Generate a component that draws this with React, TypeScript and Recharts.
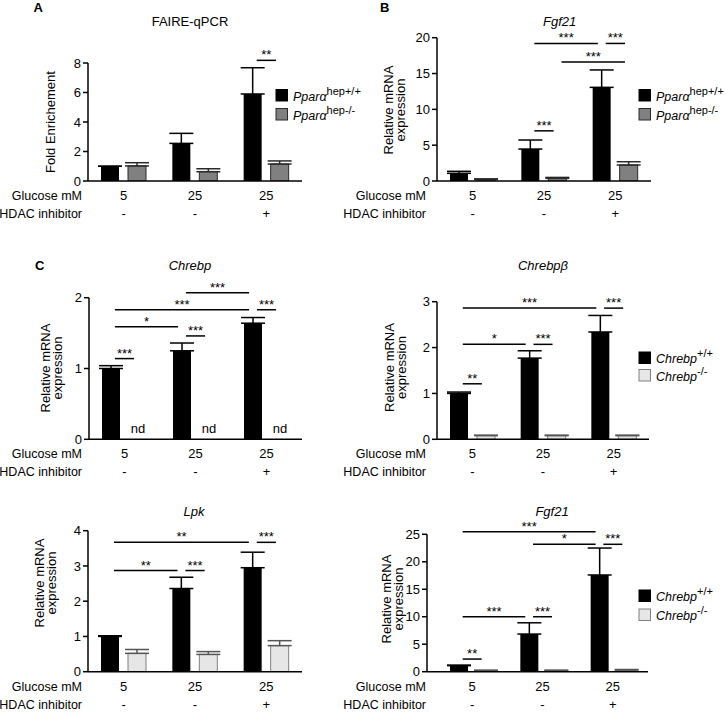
import React from 'react';
import { BarChart, Bar, XAxis, YAxis, ErrorBar, ReferenceLine, ReferenceDot } from 'recharts';

// ---------- shared categories ----------
const glucose = ['5', '25', '25'];
const hdac = ['-', '-', '+'];

// ---------- Panel A: FAIRE-qPCR ----------
const aWt = [1.0, 2.55, 5.9];
const aWtErr = [0, 0.68, 1.78];
const aKo = [1.02, 0.63, 1.15];
const aKoErr = [0.22, 0.2, 0.21];
const aTicks = [0, 2, 4, 6, 8];
const aSig = [{ a: [2, 0], b: [2, 1], y: 8.18, t: '**' }];

// ---------- Panel B: Fgf21 (Ppara) ----------
const bWt = [1.07, 4.46, 13.07];
const bWtErr = [0.28, 1.26, 2.43];
const bKo = [0.22, 0.37, 2.23];
const bKoErr = [0.08, 0.13, 0.46];
const bTicks = [0, 5, 10, 15, 20];
const bSig = [
  { a: [1, 0], b: [2, 0], y: 19.2, t: '***' },
  { a: [2, 0], b: [2, 1], y: 19.2, t: '***' },
  { a: [1, 1], b: [2, 1], y: 16.6, t: '***' },
  { a: [1, 0], b: [1, 1], y: 7.0, t: '***' },
];

// ---------- Panel C1: Chrebp ----------
const c1Wt = [1.0, 1.25, 1.64];
const c1WtErr = [0.04, 0.11, 0.08];
const c1Ko = [0, 0, 0];
const c1Nd = ['nd', 'nd', 'nd'];
const c1Ticks = [0, 1, 2];
const c1Sig = [
  { a: [0, 0], b: [0, 1], y: 1.14, t: '***' },
  { a: [0, 0], b: [1, 0], y: 1.59, t: '*' },
  { a: [1, 0], b: [1, 1], y: 1.46, t: '***' },
  { a: [0, 0], b: [2, 0], y: 1.83, t: '***' },
  { a: [1, 0], b: [2, 0], y: 2.07, t: '***' },
  { a: [2, 0], b: [2, 1], y: 1.83, t: '***' },
];

// ---------- Panel C2: Chrebpβ ----------
const c2Wt = [1.0, 1.77, 2.34];
const c2WtErr = [0.03, 0.16, 0.36];
const c2Ko = [0.08, 0.08, 0.08];
const c2KoErr = [0.01, 0.01, 0.01];
const c2Ticks = [0, 1, 2, 3];
const c2Sig = [
  { a: [0, 0], b: [0, 1], y: 1.21, t: '**' },
  { a: [0, 0], b: [1, 0], y: 2.07, t: '*' },
  { a: [1, 0], b: [1, 1], y: 2.07, t: '***' },
  { a: [0, 0], b: [2, 0], y: 2.86, t: '***' },
  { a: [2, 0], b: [2, 1], y: 2.86, t: '***' },
];

// ---------- Panel C3: Lpk ----------
const c3Wt = [1.0, 2.36, 2.95];
const c3WtErr = [0.02, 0.32, 0.44];
const c3Ko = [0.52, 0.49, 0.74];
const c3KoErr = [0.11, 0.08, 0.14];
const c3Ticks = [0, 1, 2, 3, 4];
const c3Sig = [
  { a: [0, 0], b: [1, 0], y: 2.87, t: '**' },
  { a: [1, 0], b: [1, 1], y: 2.87, t: '***' },
  { a: [0, 0], b: [2, 0], y: 3.67, t: '**' },
  { a: [2, 0], b: [2, 1], y: 3.67, t: '***' },
];

// ---------- Panel C4: Fgf21 (Chrebp) ----------
const c4Wt = [1.1, 6.85, 17.6];
const c4WtErr = [0.1, 2.05, 4.9];
const c4Ko = [0.2, 0.2, 0.3];
const c4KoErr = [0.08, 0.08, 0.1];
const c4Ticks = [0, 5, 10, 15, 20, 25];
const c4Sig = [
  { a: [0, 0], b: [0, 1], y: 2.3, t: '**' },
  { a: [0, 0], b: [1, 0], y: 10.0, t: '***' },
  { a: [1, 0], b: [1, 1], y: 10.0, t: '***' },
  { a: [0, 0], b: [2, 0], y: 25.47, t: '***' },
  { a: [1, 0], b: [2, 0], y: 23.18, t: '*' },
  { a: [2, 0], b: [2, 1], y: 23.18, t: '***' },
];

// ---------- legend names ----------
const pparaNames = [['Pparα', 'hep+/+'], ['Pparα', 'hep-/-']];
const chrebpNames = [['Chrebp', '+/+'], ['Chrebp', '-/-']];
const rowLabels = ['Glucose mM', 'HDAC inhibitor'];

// ---------- styles ----------
const FONT = '"Liberation Sans", Arial, Helvetica, sans-serif';
const BLACK = { fill: '#000000', stroke: 'none', err: '#000000' };
const GRAY = { fill: '#808080', stroke: '#2a2a2a', err: '#2a2a2a' };
const LIGHT = { fill: '#e6e6e6', stroke: '#808080', err: '#555555' };

const OFF = 0.19;
const INSET = 0.055;
const bp = (g: number, s: number) => g + 0.5 + (s === 0 ? -OFF : OFF);

const CatTick = (props: any) => {
  const { x, y, payload } = props;
  const [g, h] = String(payload.value).split('|');
  return (
    <g>
      <text x={x} y={y + 19} textAnchor="middle" fontSize={13} fill="#000">{g}</text>
      <text x={x} y={y + 37} textAnchor="middle" fontSize={13} fill="#000">{h}</text>
    </g>
  );
};

type Cfg = {
  left: number; top: number; w: number; h: number;
  pl: number; pr: number; pt: number; pb: number; pad?: number;
};

const YW = 40;
const XH = 30;

function Panel(p: {
  cfg: Cfg; wt: number[]; wtErr: number[]; ko: number[]; koErr?: number[];
  nd?: string[]; sig: any[]; ticks: number[]; koStyle: any;
}) {
  const { cfg, wt, wtErr, ko, koErr, nd, sig, ticks, koStyle } = p;
  const data = glucose.map((g, i) => ({
    label: `${g}|${hdac[i]}`,
    pos: i + 0.5,
    wt: wt[i],
    wtErr: [0, wtErr[i]],
    ko: ko[i],
    koErr: koErr ? [0, koErr[i]] : [0, 0],
  }));
  const max = ticks[ticks.length - 1];
  const margin = {
    top: cfg.pt - cfg.top,
    left: cfg.pl - cfg.left - YW,
    right: cfg.left + cfg.w - cfg.pr,
    bottom: cfg.top + cfg.h - cfg.pb - XH,
  };
  const pad = cfg.pad || 0;
  return (
    <div style={{ position: 'absolute', left: cfg.left, top: cfg.top }}>
      <BarChart width={cfg.w} height={cfg.h} data={data} margin={margin} barGap={9}>
        <XAxis
          xAxisId="cat"
          dataKey="label"
          type="category"
          height={XH}
          interval={0}
          tickLine={false}
          tickSize={0}
          tickMargin={0}
          tick={<CatTick />}
          axisLine={{ stroke: '#000', strokeWidth: 1.5 }}
          padding={{ left: pad, right: 0 }}
        />
        <XAxis
          xAxisId="num"
          dataKey="pos"
          type="number"
          domain={[0, 3]}
          allowDataOverflow
          hide
          padding={{ left: pad, right: 0 }}
        />
        <YAxis
          width={YW}
          domain={[0, max]}
          ticks={ticks}
          allowDataOverflow
          interval={0}
          tickSize={5}
          tickMargin={2}
          tick={{ fontSize: 13, fill: '#000' }}
          axisLine={{ stroke: '#000', strokeWidth: 1.5 }}
          tickLine={{ stroke: '#000', strokeWidth: 1.5 }}
        />
        <Bar xAxisId="cat" dataKey="wt" fill={BLACK.fill} barSize={18} isAnimationActive={false}>
          <ErrorBar dataKey="wtErr" width={12} stroke={BLACK.err} strokeWidth={1.5} isAnimationActive={false} />
        </Bar>
        <Bar
          xAxisId="cat"
          dataKey="ko"
          fill={koStyle.fill}
          stroke={koStyle.stroke}
          strokeWidth={1}
          barSize={18}
          isAnimationActive={false}
        >
          {koErr ? (
            <ErrorBar dataKey="koErr" width={12} stroke={koStyle.err} strokeWidth={1.5} isAnimationActive={false} />
          ) : null}
        </Bar>
        {nd
          ? nd.map((t, i) => (
              <ReferenceDot
                key={`nd${i}`}
                xAxisId="num"
                x={bp(i, 1)}
                y={0}
                r={0}
                fill="none"
                stroke="none"
                ifOverflow="visible"
                label={(lp: any) => {
                  const vb = lp.viewBox || {};
                  return (
                    <text x={vb.x + (vb.width || 0) / 2} y={vb.y - 6} textAnchor="middle" fontSize={13} fill="#000">
                      {t}
                    </text>
                  );
                }}
              />
            ))
          : null}
        {sig.map((s: any, k: number) => (
          <ReferenceLine
            key={k}
            xAxisId="num"
            ifOverflow="visible"
            stroke="#000"
            strokeWidth={1.5}
            segment={[
              { x: bp(s.a[0], s.a[1]) + INSET, y: s.y },
              { x: bp(s.b[0], s.b[1]) - INSET, y: s.y },
            ]}
            label={(lp: any) => {
              const vb = lp.viewBox || {};
              return (
                <text x={vb.x + (vb.width || 0) / 2} y={vb.y - 1} textAnchor="middle" fontSize={13} fill="#000">
                  {s.t}
                </text>
              );
            }}
          />
        ))}
      </BarChart>
    </div>
  );
}

function Legend(p: { x: number; ys: number[]; names: string[][]; styles: any[] }) {
  return (
    <g>
      {p.names.map((n, i) => (
        <g key={i}>
          <rect
            x={p.x}
            y={p.ys[i]}
            width={11.5}
            height={11.5}
            fill={p.styles[i].fill}
            stroke={p.styles[i].stroke === 'none' ? '#000' : p.styles[i].stroke}
            strokeWidth={1}
          />
          <text x={p.x + 17} y={p.ys[i] + 11} fontSize={12.5} fill="#000">
            <tspan fontStyle="italic">{n[0]}</tspan>
            <tspan dy={-6} fontSize={11}>{n[1]}</tspan>
          </text>
        </g>
      ))}
    </g>
  );
}

function YLabel(p: { xs: number[]; y: number; lines: string[] }) {
  return (
    <g>
      {p.lines.map((l, i) => (
        <text
          key={i}
          x={p.xs[i]}
          y={p.y}
          transform={`rotate(-90, ${p.xs[i]}, ${p.y})`}
          textAnchor="middle"
          fontSize={13}
          fill="#000"
        >
          {l}
        </text>
      ))}
    </g>
  );
}

function RowLabels(p: { x: number; axisY: number }) {
  return (
    <g>
      {rowLabels.map((r, i) => (
        <text key={i} x={p.x} y={p.axisY + 19 + i * 18} textAnchor="end" fontSize={12.5} fill="#000">
          {r}
        </text>
      ))}
    </g>
  );
}

const cfgA: Cfg = { left: 0, top: 0, w: 363, h: 230, pl: 88, pr: 302, pt: 63, pb: 181 };
const cfgB: Cfg = { left: 363, top: 0, w: 363, h: 230, pl: 437, pr: 651, pt: 37.7, pb: 181 };
const cfgC1: Cfg = { left: 0, top: 230, w: 363, h: 250, pl: 89, pr: 302, pt: 297.7, pb: 439.3 };
const cfgC2: Cfg = { left: 363, top: 230, w: 363, h: 250, pl: 437, pr: 649, pt: 301.7, pb: 439.3 };
const cfgC3: Cfg = { left: 0, top: 480, w: 363, h: 232, pl: 88, pr: 302, pt: 530.7, pb: 671.7 };
const cfgC4: Cfg = { left: 363, top: 480, w: 363, h: 232, pl: 427, pr: 648, pt: 534.3, pb: 671.7, pad: 10 };

export default function App() {
  return (
    <div
      style={{
        position: 'absolute',
        left: 0,
        top: 0,
        width: 726,
        height: 712,
        background: '#fff',
        fontFamily: FONT,
        overflow: 'hidden',
      }}
    >
      <Panel cfg={cfgA} wt={aWt} wtErr={aWtErr} ko={aKo} koErr={aKoErr} sig={aSig} ticks={aTicks} koStyle={GRAY} />
      <Panel cfg={cfgB} wt={bWt} wtErr={bWtErr} ko={bKo} koErr={bKoErr} sig={bSig} ticks={bTicks} koStyle={GRAY} />
      <Panel cfg={cfgC1} wt={c1Wt} wtErr={c1WtErr} ko={c1Ko} nd={c1Nd} sig={c1Sig} ticks={c1Ticks} koStyle={LIGHT} />
      <Panel cfg={cfgC2} wt={c2Wt} wtErr={c2WtErr} ko={c2Ko} koErr={c2KoErr} sig={c2Sig} ticks={c2Ticks} koStyle={LIGHT} />
      <Panel cfg={cfgC3} wt={c3Wt} wtErr={c3WtErr} ko={c3Ko} koErr={c3KoErr} sig={c3Sig} ticks={c3Ticks} koStyle={LIGHT} />
      <Panel cfg={cfgC4} wt={c4Wt} wtErr={c4WtErr} ko={c4Ko} koErr={c4KoErr} sig={c4Sig} ticks={c4Ticks} koStyle={LIGHT} />
      <svg
        width={726}
        height={712}
        style={{ position: 'absolute', left: 0, top: 0, pointerEvents: 'none' }}
        fontFamily={FONT}
      >
        <text x={33.5} y={12} fontSize={13} fontWeight="bold">A</text>
        <text x={380} y={12} fontSize={13} fontWeight="bold">B</text>
        <text x={35} y={270} fontSize={13} fontWeight="bold">C</text>

        <text x={190} y={26} fontSize={13} textAnchor="middle">FAIRE-qPCR</text>
        <text x={559.7} y={25.5} fontSize={13} textAnchor="middle" fontStyle="italic">Fgf21</text>
        <text x={190} y={270} fontSize={13} textAnchor="middle" fontStyle="italic">Chrebp</text>
        <text x={543} y={270} fontSize={13} textAnchor="middle" fontStyle="italic">Chrebpβ</text>
        <text x={194} y={516} fontSize={13} textAnchor="middle" fontStyle="italic">Lpk</text>
        <text x={552} y={516} fontSize={13} textAnchor="middle" fontStyle="italic">Fgf21</text>

        <RowLabels x={82} axisY={181} />
        <RowLabels x={426} axisY={181} />
        <RowLabels x={82} axisY={439.3} />
        <RowLabels x={426} axisY={439.3} />
        <RowLabels x={82} axisY={671.7} />
        <RowLabels x={426} axisY={671.7} />

        <YLabel xs={[55]} y={122} lines={['Fold Enrichement']} />
        <YLabel xs={[393, 405]} y={110} lines={['Relative mRNA', 'expression']} />
        <YLabel xs={[50, 62]} y={368} lines={['Relative mRNA', 'expression']} />
        <YLabel xs={[394, 406]} y={367.5} lines={['Relative mRNA', 'expression']} />
        <YLabel xs={[43.5, 55.5]} y={583} lines={['Relative mRNA', 'expression']} />
        <YLabel xs={[391, 403]} y={599} lines={['Relative mRNA', 'expression']} />

        <Legend x={276} ys={[89.5, 108.5]} names={pparaNames} styles={[BLACK, GRAY]} />
        <Legend x={639} ys={[89.5, 108.5]} names={pparaNames} styles={[BLACK, GRAY]} />
        <Legend x={639} ys={[352, 369.5]} names={chrebpNames} styles={[BLACK, LIGHT]} />
        <Legend x={639} ys={[590, 609]} names={chrebpNames} styles={[BLACK, LIGHT]} />
      </svg>
    </div>
  );
}
